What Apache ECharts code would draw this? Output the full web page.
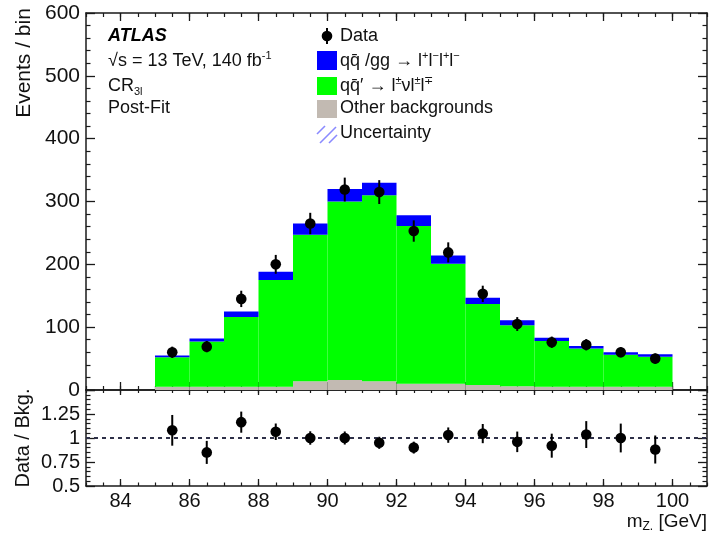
<!DOCTYPE html>
<html>
<head>
<meta charset="utf-8">
<script src="https://cdn.jsdelivr.net/npm/echarts@6/dist/echarts.min.js"></script>
<style>
  html, body { margin: 0; padding: 0; background: #fff; }
  #chart { width: 710px; height: 540px; }
</style>
</head>
<body>
<div id="chart"></div>
<script>
// Bin edges of the m_Z distribution [GeV]
const binEdges = [85, 86, 87, 88, 89, 90, 91, 92, 93, 94, 95, 96, 97, 98, 99, 100];
// Post-fit stacked backgrounds (events per bin)
const otherBkg = [5, 5, 5, 5, 14, 16, 14, 10, 10, 8, 6, 5, 5, 5, 5];
const wzBkg    = [47, 72, 111, 170, 233, 284, 296, 251, 191, 129, 97, 73, 61, 51, 48];
const zzBkg    = [3, 5, 9, 13, 18, 20, 20, 17, 13, 10, 8, 5, 4, 4, 4];
// Observed data and its statistical uncertainty
const dataCounts = [60, 69, 145, 200, 265, 319, 315, 253, 219, 153, 105, 76, 72, 60, 50];
const dataErr    = [9, 9, 13, 15, 17, 19, 19, 17, 16, 13, 11, 9, 9, 8, 8];
// Data / background ratio panel
const ratioVals = [1.08, 0.85, 1.165, 1.065, 1.0, 1.0, 0.95, 0.90, 1.03, 1.046, 0.96, 0.92, 1.036, 1.0, 0.88];
const ratioErr  = [0.16, 0.12, 0.11, 0.086, 0.07, 0.068, 0.063, 0.062, 0.08, 0.10, 0.107, 0.125, 0.14, 0.15, 0.146];
// Axis tick labels
const xTicks = [84, 86, 88, 90, 92, 94, 96, 98, 100];
const yTicksTop = [0, 100, 200, 300, 400, 500, 600];
const yTicksRatio = [0.5, 0.75, 1, 1.25];

const FONT = '"Liberation Sans", Arial, Helvetica, sans-serif';
const COL_BLUE = '#0000ff';
const COL_GREEN = '#00ff00';
const COL_GREY = '#c2bab2';
const COL_HATCH = '#8a8aff';
const AXIS_COL = '#1a1a1a';
const MARKER_R = 5.3;

// Build stacked rectangles [lo, hi, bottom, top] from the component arrays
function stackLayer(layers, idx) {
  return binEdges.slice(0, -1).map((lo, i) => {
    let bottom = 0;
    for (let k = 0; k < idx; k++) bottom += layers[k][i];
    return [lo, binEdges[i + 1], bottom, bottom + layers[idx][i]];
  });
}
const layers = [otherBkg, wzBkg, zzBkg];
const layerColors = [COL_GREY, COL_GREEN, COL_BLUE];

function rectRender(color) {
  return function (params, api) {
    const p0 = api.coord([api.value(0), api.value(2)]);
    const p1 = api.coord([api.value(1), api.value(3)]);
    return {
      type: 'rect',
      shape: { x: p0[0], y: p1[1], width: p1[0] - p0[0], height: p0[1] - p1[1] },
      style: { fill: color, stroke: null }
    };
  };
}

function pointRender(params, api) {
  const x = api.value(0), y = api.value(1), e = api.value(2);
  const lo = api.coord([x, y - e]);
  const hi = api.coord([x, y + e]);
  const c = api.coord([x, y]);
  return {
    type: 'group',
    children: [
      { type: 'line', shape: { x1: lo[0], y1: lo[1], x2: hi[0], y2: hi[1] },
        style: { stroke: '#000', lineWidth: 2 } },
      { type: 'circle', shape: { cx: c[0], cy: c[1], r: MARKER_R }, style: { fill: '#000' } }
    ]
  };
}

const binCentres = binEdges.slice(0, -1).map((lo, i) => (lo + binEdges[i + 1]) / 2);
const dataPts = binCentres.map((x, i) => [x, dataCounts[i], dataErr[i]]);
const ratioPts = binCentres.map((x, i) => [x, ratioVals[i], ratioErr[i]]);

const axisLineStyle = { lineStyle: { color: AXIS_COL, width: 1.5 } };

// Major x ticks (every 2 GeV, optionally labelled)
function xMajorAxis(grid, pos, showLabels, tickLen) {
  return {
    type: 'value', gridIndex: grid, position: pos, min: 83, max: 101,
    axisLine: { show: true, onZero: false, ...axisLineStyle },
    axisTick: { show: true, inside: true, length: tickLen, customValues: xTicks,
                lineStyle: { color: AXIS_COL, width: 1.3 } },
    splitLine: { show: false },
    axisLabel: {
      show: showLabels, customValues: xTicks, fontFamily: FONT, fontSize: 20, color: '#111', margin: 5,
      formatter: v => String(v)
    }
  };
}
// Minor x ticks (every 0.5 GeV)
function xMinorAxis(grid, pos, tickLen) {
  return {
    type: 'value', gridIndex: grid, position: pos, min: 83, max: 101, interval: 0.5,
    axisLine: { show: false, onZero: false },
    axisTick: { show: true, inside: true, length: tickLen, lineStyle: { color: AXIS_COL, width: 1.2 } },
    splitLine: { show: false },
    axisLabel: { show: false }
  };
}
function yAxisDef(grid, pos, min, max, interval, minorSplit, labels, fontSize, tickLen) {
  return {
    type: 'value', gridIndex: grid, position: pos, min: min, max: max, interval: interval,
    axisLine: { show: true, onZero: false, ...axisLineStyle },
    axisTick: { show: true, inside: true, length: tickLen, lineStyle: { color: AXIS_COL, width: 1.3 } },
    minorTick: { show: true, splitNumber: minorSplit, length: tickLen / 2, lineStyle: { color: AXIS_COL, width: 1.2 } },
    splitLine: { show: false },
    axisLabel: {
      show: !!labels, fontFamily: FONT, fontSize: fontSize, color: '#111', margin: 6,
      formatter: v => (labels && labels.indexOf(v) >= 0 ? String(v) : '')
    }
  };
}

const chart = echarts.init(document.getElementById('chart'), null, { renderer: 'canvas' });

const series = [];
layers.forEach((_, idx) => {
  series.push({
    type: 'custom', xAxisIndex: 0, yAxisIndex: 0, clip: true,
    renderItem: rectRender(layerColors[idx]),
    encode: { x: [0, 1], y: [2, 3] },
    data: stackLayer(layers, idx), z: 2
  });
});
series.push({
  type: 'custom', xAxisIndex: 0, yAxisIndex: 0, renderItem: pointRender,
  encode: { x: 0, y: 1 }, data: dataPts, z: 5
});
series.push({
  type: 'line', xAxisIndex: 4, yAxisIndex: 2, data: [[83, 1], [101, 1]],
  symbol: 'none', silent: true,
  lineStyle: { color: '#2e3048', width: 1.8, type: [4, 4] }, z: 3
});
series.push({
  type: 'custom', xAxisIndex: 4, yAxisIndex: 2, renderItem: pointRender,
  encode: { x: 0, y: 1 }, data: ratioPts, z: 5
});

function richText(x, y, text, rich, align) {
  return {
    type: 'text', x: x, y: y, z: 100,
    style: { text: text, rich: rich, fontFamily: FONT, fontSize: 18, fill: '#111',
             align: align || 'left', verticalAlign: 'middle' }
  };
}
const baseRich = {
  n: { fontFamily: FONT, fontSize: 18, fill: '#111', lineHeight: 22, verticalAlign: 'middle' },
  sup: { fontFamily: FONT, fontSize: 11, fill: '#111', lineHeight: 11, verticalAlign: 'top', padding: [0, 0, 8, 0] },
  sub: { fontFamily: FONT, fontSize: 11, fill: '#111', lineHeight: 11, verticalAlign: 'bottom', padding: [8, 0, 0, 0] }
};

const LX = 340;
const graphics = [
  // Experiment label block
  { type: 'text', x: 108, y: 36, z: 100,
    style: { text: 'ATLAS', fontFamily: FONT, fontSize: 18, fontWeight: 'bold', fontStyle: 'italic',
             fill: '#000', verticalAlign: 'middle' } },
  richText(108, 61, '{n|√s = 13 TeV, 140 fb}{sup|-1}', baseRich),
  richText(108, 86, '{n|CR}{sub|3l}', baseRich),
  richText(108, 108, '{n|Post-Fit}', baseRich),
  // Legend: data marker
  { type: 'line', z: 100, shape: { x1: 327, y1: 28, x2: 327, y2: 44 }, style: { stroke: '#000', lineWidth: 2 } },
  { type: 'circle', z: 100, shape: { cx: 327, cy: 36, r: MARKER_R }, style: { fill: '#000' } },
  richText(LX, 36, '{n|Data}', baseRich),
  // Legend: ZZ
  { type: 'rect', z: 100, shape: { x: 317, y: 51, width: 20, height: 19 }, style: { fill: COL_BLUE } },
  richText(LX, 61, '{n|qq̄ /gg → l}{sup|+}{n|l}{sup|−}{n|l}{sup|+}{n|l}{sup|−}', baseRich),
  // Legend: WZ
  { type: 'rect', z: 100, shape: { x: 317, y: 77, width: 20, height: 18 }, style: { fill: COL_GREEN } },
  richText(LX, 86, '{n|qq̄′ → l}{sup|±}{n|νl}{sup|±}{n|l}{sup|∓}', baseRich),
  // Legend: other backgrounds
  { type: 'rect', z: 100, shape: { x: 317, y: 100, width: 20, height: 18 }, style: { fill: COL_GREY } },
  richText(LX, 108, '{n|Other backgrounds}', baseRich),
  // Legend: uncertainty hatch
  { type: 'line', z: 100, shape: { x1: 317, y1: 134, x2: 325, y2: 126 }, style: { stroke: COL_HATCH, lineWidth: 1.6 } },
  { type: 'line', z: 100, shape: { x1: 320, y1: 143, x2: 336, y2: 127 }, style: { stroke: COL_HATCH, lineWidth: 1.6 } },
  { type: 'line', z: 100, shape: { x1: 329, y1: 143, x2: 337, y2: 135 }, style: { stroke: COL_HATCH, lineWidth: 1.6 } },
  richText(LX, 133, '{n|Uncertainty}', baseRich),
  // Axis titles
  { type: 'text', x: 24, y: 63, rotation: Math.PI / 2, z: 100,
    style: { text: 'Events / bin', fontFamily: FONT, fontSize: 21, fill: '#111', align: 'center', verticalAlign: 'middle' } },
  { type: 'text', x: 23, y: 438, rotation: Math.PI / 2, z: 100,
    style: { text: 'Data / Bkg.', fontFamily: FONT, fontSize: 20, fill: '#111', align: 'center', verticalAlign: 'middle' } },
  { type: 'text', x: 707, y: 522, z: 100,
    style: { text: '{m|m}{s|Z.}{m| [GeV]}', fontFamily: FONT, align: 'right', verticalAlign: 'middle',
             rich: {
               m: { fontFamily: FONT, fontSize: 19, fill: '#111', lineHeight: 22, verticalAlign: 'middle' },
               s: { fontFamily: FONT, fontSize: 12, fill: '#111', lineHeight: 12, verticalAlign: 'bottom', padding: [8, 0, 0, 0] }
             } } }
];

chart.setOption({
  animation: false,
  backgroundColor: '#ffffff',
  grid: [
    { left: 86, width: 621, top: 13, height: 377 },
    { left: 86, width: 621, top: 390, height: 96 }
  ],
  xAxis: [
    xMajorAxis(0, 'bottom', false, 8),   // 0
    xMajorAxis(0, 'top', false, 8),      // 1
    xMinorAxis(0, 'bottom', 4),          // 2
    xMinorAxis(0, 'top', 4),             // 3
    xMajorAxis(1, 'bottom', true, 7),    // 4
    xMajorAxis(1, 'top', false, 5),      // 5
    xMinorAxis(1, 'bottom', 3.5),        // 6
    xMinorAxis(1, 'top', 3)              // 7
  ],
  yAxis: [
    yAxisDef(0, 'left', 0, 600, 100, 5, yTicksTop, 21, 9),
    yAxisDef(0, 'right', 0, 600, 100, 5, null, 21, 9),
    yAxisDef(1, 'left', 0.5, 1.5, 0.25, 5, yTicksRatio, 20, 9),
    yAxisDef(1, 'right', 0.5, 1.5, 0.25, 5, null, 20, 9)
  ],
  series: series,
  graphic: graphics
});
</script>
</body>
</html>
